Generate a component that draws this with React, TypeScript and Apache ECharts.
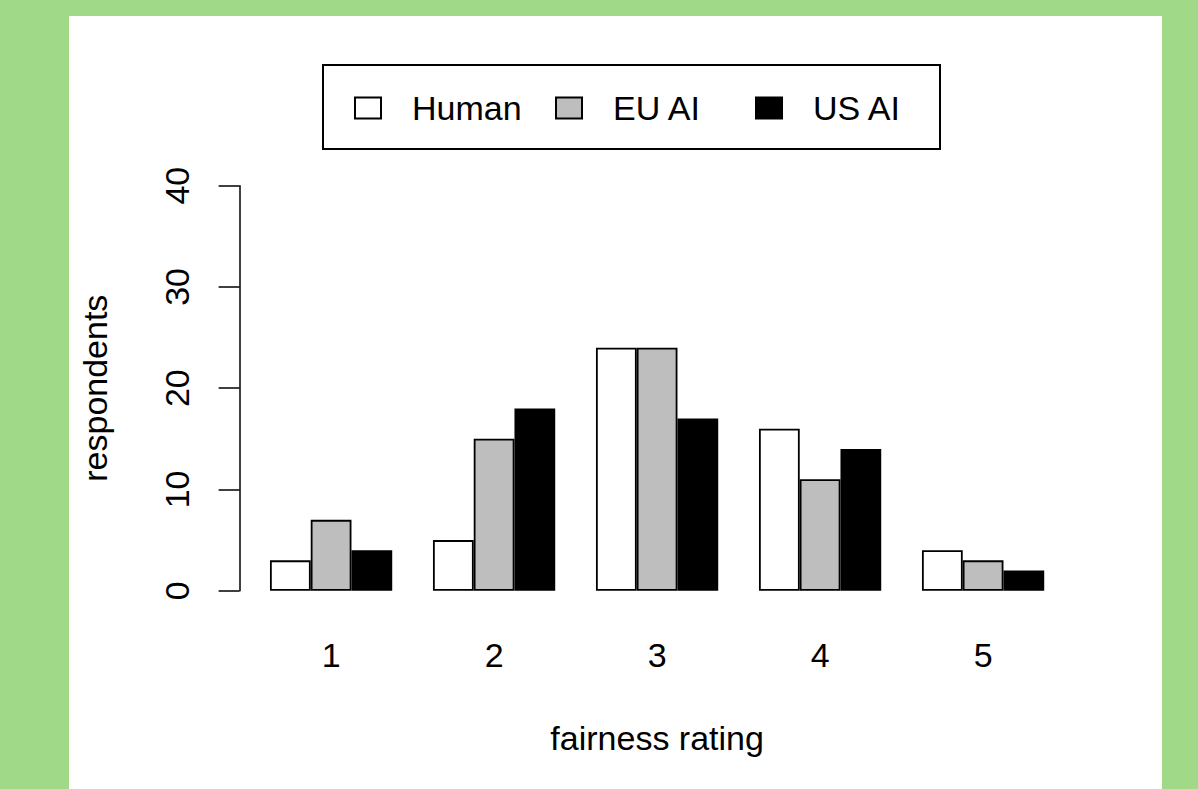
import React, { useEffect, useRef } from "react";
import * as echarts from "echarts";

const categories = ["1", "2", "3", "4", "5"];
const seriesNames = ["Human", "EU AI", "US AI"];
const humanValues = [3, 5, 24, 16, 4];
const euValues = [7, 15, 24, 11, 3];
const usValues = [4, 18, 17, 14, 2];
const seriesColors = ["#FFFFFF", "#BEBEBE", "#000000"];
const yMin = 0;
const yMax = 40;
const yInterval = 10;
const xTitle = "fairness rating";
const yTitle = "respondents";

const FONT = "'Liberation Sans', Arial, Helvetica, sans-serif";

export default function App() {
  const ref = useRef<HTMLDivElement>(null);
  useEffect(() => {
    document.body.style.margin = "0";
    if (!ref.current) return;
    const chart = echarts.init(ref.current, null, { renderer: "svg" });
    const values = [humanValues, euValues, usValues];
    const legendLefts = [354, 555, 755];
    const option: any = {
      animation: false,
      backgroundColor: "#A0D988",
      textStyle: { fontFamily: FONT, color: "#000" },
      graphic: [
        {
          type: "rect",
          z: -10,
          shape: { x: 69, y: 16, width: 1093, height: 773 },
          style: { fill: "#FFFFFF" },
          silent: true,
        },
        {
          type: "rect",
          z: 5,
          shape: { x: 323, y: 65, width: 617, height: 84 },
          style: { fill: "none", stroke: "#000", lineWidth: 2 },
          silent: true,
        },
      ],
      legend: seriesNames.map((name, i) => ({
        data: [name],
        left: legendLefts[i],
        top: 91,
        padding: 0,
        icon: "rect",
        itemWidth: 26,
        itemHeight: 21,
        selectedMode: false,
        textStyle: {
          fontFamily: FONT,
          fontSize: 34,
          color: "#000",
          padding: [0, 0, 0, 26],
        },
      })),
      grid: {
        left: 249.6,
        right: 133.4,
        top: 185.7,
        bottom: 198.3,
        containLabel: false,
      },
      xAxis: {
        type: "category",
        data: categories,
        axisLine: { show: false },
        axisTick: { show: false },
        axisLabel: { fontFamily: FONT, fontSize: 34, color: "#000", margin: 47 },
        name: xTitle,
        nameLocation: "middle",
        nameGap: 130,
        nameTextStyle: { fontFamily: FONT, fontSize: 34, color: "#000" },
      },
      yAxis: {
        type: "value",
        min: yMin,
        max: yMax,
        interval: yInterval,
        offset: 10,
        splitLine: { show: false },
        axisLine: { show: true, lineStyle: { color: "#000", width: 1.5 } },
        axisTick: { show: true, length: 21, lineStyle: { color: "#000", width: 1.5 } },
        axisLabel: {
          fontFamily: FONT,
          fontSize: 34,
          color: "#000",
          rotate: 90,
          margin: 46,
        },
        name: yTitle,
        nameLocation: "middle",
        nameRotate: 90,
        nameGap: 128,
        nameTextStyle: { fontFamily: FONT, fontSize: 34, color: "#000" },
      },
      series: seriesNames.map((name, i) => ({
        name,
        type: "bar",
        data: values[i],
        barGap: "0%",
        barCategoryGap: "25%",
        itemStyle: {
          color: seriesColors[i],
          borderColor: "#000",
          borderWidth: 1.8,
        },
      })),
    };
    chart.setOption(option);
    return () => chart.dispose();
  }, []);
  return <div ref={ref} style={{ width: 1198, height: 789 }} />;
}
